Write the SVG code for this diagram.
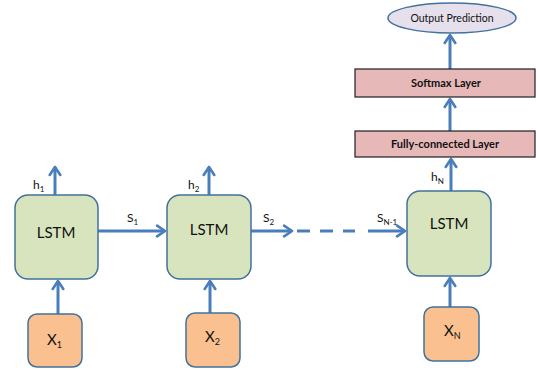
<svg xmlns="http://www.w3.org/2000/svg" width="538" height="370" viewBox="0 0 538 370">
  <defs>
    <marker id="head" viewBox="0 0 10 10" refX="8" refY="5" markerWidth="4.4" markerHeight="4.4" orient="auto" markerUnits="strokeWidth">
      <polyline points="2,1 8,5 2,9" fill="none" stroke="#4a7ebb" stroke-width="2" stroke-linecap="round" stroke-linejoin="round"/>
    </marker>
    <style>
      .lstm { fill: #d7e4bd; stroke: #41719c; stroke-width: 1.5; }
      .inp { fill: #fac090; stroke: #41719c; stroke-width: 1.5; }
      .layer { fill: #e6b9b8; stroke: #1f1f1f; stroke-width: 1.2; }
      .out { fill: #e6e0ec; stroke: #41719c; stroke-width: 1.5; }
      .wire { fill: none; stroke: #4a7ebb; stroke-width: 3; }
      .arr { marker-end: url(#head); }
      text { font-family: Lato, "Open Sans", "DejaVu Sans", sans-serif; fill: #111; }
      .big { font-size: 15px; text-anchor: middle; }
      .lbl { font-size: 12px; }
      .bold { font-size: 11px; font-weight: bold; text-anchor: middle; }
      .sm { font-size: 10.5px; text-anchor: middle; }
    </style>
  </defs>

  <g id="connectors">
    <line class="wire arr" x1="55" y1="195" x2="55" y2="167"/>
    <line class="wire arr" x1="58" y1="314" x2="58" y2="281"/>
    <line class="wire arr" x1="98" y1="231" x2="165" y2="231"/>
    <line class="wire arr" x1="209" y1="195" x2="209" y2="167"/>
    <line class="wire arr" x1="210" y1="313" x2="210" y2="281"/>
    <line class="wire arr" x1="251" y1="231" x2="292" y2="231"/>
    <line class="wire" x1="297" y1="231" x2="355" y2="231" stroke-dasharray="13 10"/>
    <line class="wire arr" x1="368" y1="231" x2="405" y2="231"/>
    <line class="wire arr" x1="450" y1="307" x2="450" y2="278"/>
    <line class="wire arr" x1="451" y1="191" x2="451" y2="159"/>
    <line class="wire arr" x1="450" y1="131" x2="450" y2="99"/>
    <line class="wire arr" x1="450" y1="69" x2="450" y2="35"/>
  </g>

  <g id="lstm1">
    <rect class="lstm" x="15" y="195" width="83" height="84" rx="13"/>
    <text class="big" x="56" y="238">LSTM</text>
  </g>
  <g id="lstm2">
    <rect class="lstm" x="167" y="195" width="84" height="84" rx="13"/>
    <text class="big" x="209" y="235">LSTM</text>
  </g>
  <g id="lstmN">
    <rect class="lstm" x="407" y="191" width="84" height="85" rx="13"/>
    <text class="big" x="449" y="229">LSTM</text>
  </g>

  <g id="x1">
    <rect class="inp" x="28" y="314" width="54" height="53" rx="9"/>
    <text class="big" x="47" y="345" style="text-anchor:start">X<tspan font-size="9" dy="3">1</tspan></text>
  </g>
  <g id="x2">
    <rect class="inp" x="186" y="313" width="54" height="54" rx="9"/>
    <text class="big" x="205" y="342" style="text-anchor:start">X<tspan font-size="9" dy="3">2</tspan></text>
  </g>
  <g id="xN">
    <rect class="inp" x="424" y="307" width="55" height="54" rx="9"/>
    <text class="big" x="444" y="336" style="text-anchor:start">X<tspan font-size="9" dy="3">N</tspan></text>
  </g>

  <g id="fc">
    <rect class="layer" x="355" y="131" width="180" height="26"/>
    <text class="bold" x="445" y="148">Fully-connected Layer</text>
  </g>
  <g id="softmax">
    <rect class="layer" x="355" y="69" width="180" height="28"/>
    <text class="bold" x="446" y="87">Softmax Layer</text>
  </g>
  <g id="output">
    <ellipse class="out" cx="452" cy="18" rx="64" ry="15"/>
    <text class="sm" x="452" y="22">Output Prediction</text>
  </g>

  <g id="labels">
    <text class="lbl" x="33" y="189">h<tspan font-size="8" dy="3">1</tspan></text>
    <text class="lbl" x="188" y="189">h<tspan font-size="8" dy="3">2</tspan></text>
    <text class="lbl" x="431" y="181">h<tspan font-size="8" dy="3">N</tspan></text>
    <text class="lbl" x="127" y="222">S<tspan font-size="8" dy="3">1</tspan></text>
    <text class="lbl" x="263" y="222">S<tspan font-size="8" dy="3">2</tspan></text>
    <text class="lbl" x="377" y="222">S<tspan font-size="8" dy="3">N-1</tspan></text>
  </g>
</svg>
